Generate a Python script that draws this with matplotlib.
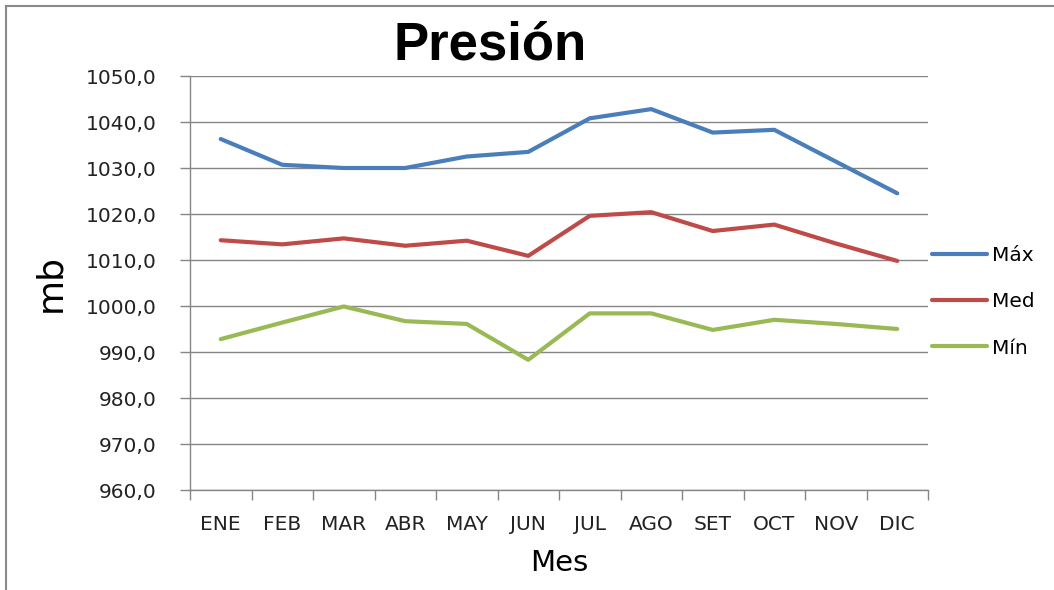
import matplotlib
matplotlib.use("Agg")
import matplotlib.pyplot as plt
from matplotlib.ticker import FixedLocator, FuncFormatter
from matplotlib.lines import Line2D

# Datos de presión (mb) por mes
meses = ["ENE", "FEB", "MAR", "ABR", "MAY", "JUN",
         "JUL", "AGO", "SET", "OCT", "NOV", "DIC"]
pres_max = [1036.3, 1030.7, 1030.0, 1030.0, 1032.5, 1033.5,
            1040.8, 1042.8, 1037.7, 1038.3, 1031.4, 1024.5]
pres_med = [1014.3, 1013.4, 1014.7, 1013.1, 1014.2, 1010.9,
            1019.6, 1020.4, 1016.3, 1017.7, 1013.6, 1009.8]
pres_min = [992.8, 996.4, 999.9, 996.7, 996.1, 988.3,
            998.4, 998.4, 994.8, 997.0, 996.1, 995.0]

series = [
    ("Máx", pres_max, "#4A7EBB"),
    ("Med", pres_med, "#BE4B48"),
    ("Mín", pres_min, "#98B954"),
]

W, H = 1054, 590
fig = plt.figure(figsize=(W / 100, H / 100), dpi=100)
ax = fig.add_axes([190 / W, 1 - 490 / H, (928 - 190) / W, (490 - 76) / H])

x = list(range(len(meses)))
for nombre, vals, color in series:
    ax.plot(x, vals, color=color, linewidth=3.0, label=nombre,
            solid_joinstyle="round", solid_capstyle="round")

grid_col = "#868686"
ax.set_ylim(960, 1050)
ax.set_xlim(-0.5, len(meses) - 0.5)
ax.set_yticks(range(960, 1051, 10))
ax.yaxis.set_major_formatter(FuncFormatter(lambda v, p: f"{v:.1f}".replace(".", ",")))
ax.grid(axis="y", color=grid_col, linewidth=1.0)
ax.set_axisbelow(True)

ax.set_xticks(x)
ax.set_xticklabels(meses)
ax.xaxis.set_minor_locator(FixedLocator([i - 0.5 for i in range(len(meses) + 1)]))
ax.tick_params(axis="x", which="major", length=0, pad=18, labelsize=14.5, colors="#222222")
ax.tick_params(axis="x", which="minor", length=7, width=1, color=grid_col)
ax.tick_params(axis="y", length=7, width=1, color=grid_col, pad=17,
               labelsize=14.5, labelcolor="#222222")

for s in ["top", "right"]:
    ax.spines[s].set_visible(False)
for s in ["left", "bottom"]:
    ax.spines[s].set_color(grid_col)
    ax.spines[s].set_linewidth(1.0)

ax.set_xlabel("Mes", fontsize=21, labelpad=11)
ax.set_ylabel("mb", fontsize=26, labelpad=13)

fig.text(490 / W, 1 - 45 / H, "Presión", ha="center", va="center",
         fontsize=38, fontweight="bold", family="Liberation Sans")

ax.legend(loc="center left", bbox_to_anchor=(1.006, 0.455), frameon=False,
          fontsize=14.5, borderpad=0, borderaxespad=0, labelspacing=1.36,
          handlelength=2.7, handletextpad=0.25)

# marco exterior del gráfico
fig.add_artist(Line2D([6 / W, 6 / W], [0, 1 - 6 / H], color="#8a8a8a", linewidth=1.5))
fig.add_artist(Line2D([6 / W, 1], [1 - 6 / H, 1 - 6 / H], color="#8a8a8a", linewidth=1.5))

fig.savefig("out.png", dpi=100)
